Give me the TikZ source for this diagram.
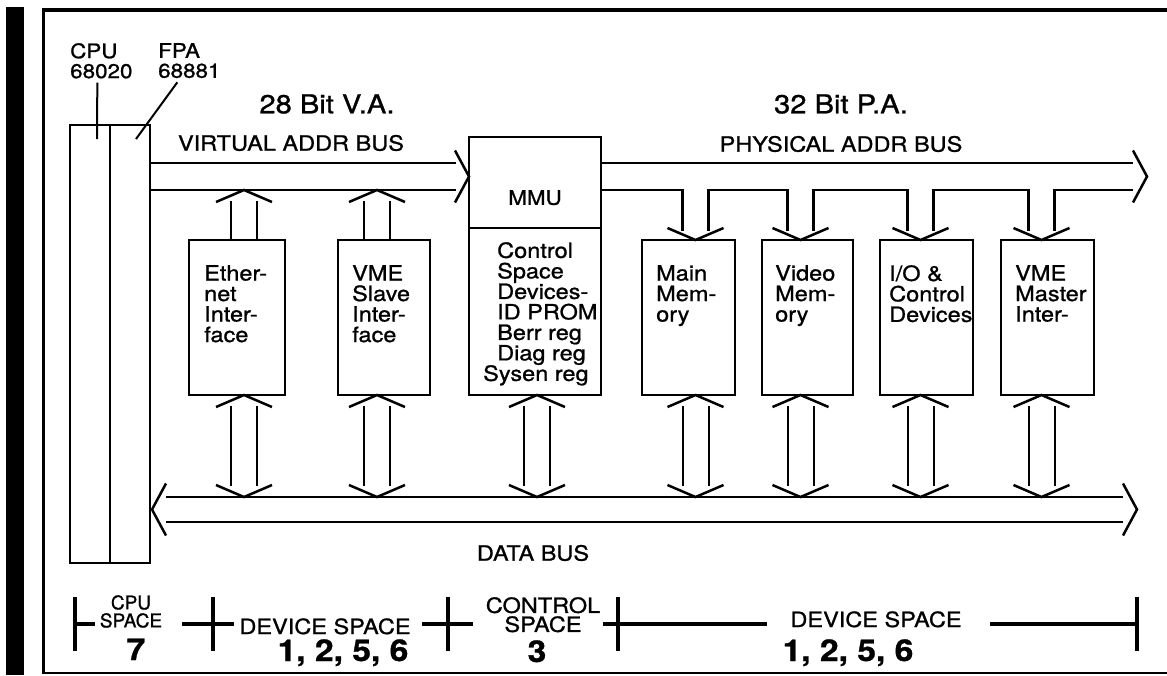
\documentclass[tikz,border=0pt]{standalone}
\usepackage{fontspec}
\setmainfont{TeX Gyre Heros}[FakeStretch=1.12, FakeBold=1]
\newfontfamily\narrowfont{TeX Gyre Heros}[FakeBold=1]
\usepackage{tikz}
\usetikzlibrary{positioning, calc}

\tikzset{
    box/.style={draw, line width=2.6pt, inner sep=0pt, outer sep=0pt, anchor=north west},
    boxtext/.style={inner sep=0pt, anchor=north west, align=left, font=\fontsize{21}{20.5}\selectfont},
    bus/.style={line width=2.8pt},
    shaft/.style={line width=2pt},
    tip/.style={line width=2.5pt},
    buslabel/.style={inner sep=0pt, font=\fontsize{21}{21}\selectfont},
    widthlabel/.style={inner sep=0pt, font=\fontsize{26}{26}\selectfont},
    spacelabel/.style={inner sep=0pt, align=center, font=\fontsize{21}{19}\selectfont},
    spacenum/.style={inner sep=0pt, anchor=base, font=\fontsize{30}{30}\selectfont\bfseries},
    scaleline/.style={line width=3.4pt},
}

\newcommand{\uptip}[1]{\draw[tip] ($(#1)+(-28,12)$) -- (#1) -- ($(#1)+(28,12)$);}
\newcommand{\downtip}[1]{\draw[tip] ($(#1)+(-28,-12)$) -- (#1) -- ($(#1)+(28,-12)$);}
\newcommand{\righttip}[1]{\draw[tip] ($(#1)+(-14,-26)$) -- (#1) -- ($(#1)+(-14,26)$);}
\newcommand{\lefttip}[1]{\draw[tip] ($(#1)+(14,-26)$) -- (#1) -- ($(#1)+(14,26)$);}

\begin{document}
\begin{tikzpicture}[x=1pt, y=-1pt]
    \useasboundingbox (0,0) rectangle (1167,675);

    \fill (6,7) rectangle (24,675);
    \draw[line width=4pt] (42,10) -- (1167,10);
    \draw[line width=3pt] (43,9) -- (43,673);
    \draw[line width=2.5pt] (42,673) -- (1167,673);

    \coordinate (atop) at (0,163);
    \coordinate (amid) at (0,176.5);
    \coordinate (abot) at (0,190);
    \coordinate (dtop) at (0,497);
    \coordinate (dmid) at (0,509.5);
    \coordinate (dbot) at (0,522);
    \coordinate (paend) at (1133,0);
    \coordinate (dend) at (1123,0);

    \node[box, minimum width=40pt, minimum height=438pt] (cpu) at (70,125) {};
    \node[box, minimum width=40pt, minimum height=438pt] (fpa) at (cpu.north east) {};
    \node[inner sep=0pt, anchor=north west, align=left, font=\fontsize{20}{20}\selectfont] (cpulabel) at (70,43) {CPU\\68020};
    \node[inner sep=0pt, anchor=north west, align=left, font=\fontsize{20}{20}\selectfont] (fpalabel) at (158,43) {FPA\\68881};
    \draw[shaft] ($(cpulabel.south)+(-4,4)$) -- ($(cpu.north)+(7,14)$);
    \draw[shaft] ($(fpalabel.south)+(-12,4)$) -- ($(fpa.north east)+(-14,14)$);

    \node[box, minimum width=132pt, minimum height=91pt] (mmu) at (469,137) {};
    \node[box, minimum width=132pt, minimum height=167pt] (csd) at (mmu.south west) {};
    \node[inner sep=0pt, anchor=north, font=\fontsize{20}{20}\selectfont, below=53pt of mmu.north] (mmutext) {MMU};
    \node[boxtext, below right=14pt and 28pt of csd.north west] (csdtext) {Control\\Space\\Devices-\\ID PROM\\Berr reg\\Diag reg\\\hspace*{-14pt}Sysen reg};

    \node[box, minimum width=96pt, minimum height=155pt] (eth) at (189,240) {};
    \node[box, minimum width=92pt, minimum height=155pt] (vmes) at (338,240) {};
    \node[box, minimum width=93pt, minimum height=155pt] (mainmem) at (642,240) {};
    \node[box, minimum width=91pt, minimum height=155pt] (vidmem) at (762,240) {};
    \node[box, minimum width=93pt, minimum height=155pt] (iodev) at (880,240) {};
    \node[box, minimum width=93pt, minimum height=155pt] (vmem) at (1001,240) {};

    \node[boxtext, below right=25pt and 15pt of eth.north west] (ethtext) {Ether-\\net\\Inter-\\face};
    \node[boxtext, below right=25pt and 14pt of vmes.north west] (vmestext) {VME\\Slave\\Inter-\\face};
    \node[boxtext, below right=25pt and 14pt of mainmem.north west] (mainmemtext) {Main\\Mem-\\ory};
    \node[boxtext, below right=25pt and 13pt of vidmem.north west] (vidmemtext) {Video\\Mem-\\ory};
    \node[boxtext, below right=25pt and 9pt of iodev.north west] (iodevtext) {I/O \&\\Control\\Devices};
    \node[boxtext, below right=25pt and 14pt of vmem.north west] (vmemtext) {VME\\Master\\Inter-};

    \node[widthlabel] (vawidth) at (327,104) {28 Bit V.A.};
    \node[buslabel] (valabel) at (291,143) {VIRTUAL ADDR BUS};
    \node[widthlabel] (pawidth) at (841,104) {32 Bit P.A.};
    \node[buslabel] (palabel) at (841,144) {PHYSICAL ADDR BUS};
    \node[buslabel] (dblabel) at (533,553) {DATA BUS};

    \draw[bus] (fpa.east |- atop) -- ($(mmu.west |- atop)+(-13,0)$);
    \draw[bus] (fpa.east |- abot) -- ($(mmu.west |- abot)+(-13,0)$);
    \righttip{mmu.west |- amid}

    \draw[bus] (mmu.east |- atop) -- (paend |- atop);
    \coordinate (patip) at ($(paend |- amid)+(14,0)$);
    \righttip{patip}

    \foreach \b/\dx in {eth/7, vmes/-7} {
        \coordinate (\b-t) at ($(\b.north)+(\dx,0)$);
        \uptip{\b-t |- abot}
        \draw[shaft] ($(\b-t |- abot)+(-13,11)$) -- ($(\b-t)+(-13,0)$);
        \draw[shaft] ($(\b-t |- abot)+(13,11)$) -- ($(\b-t)+(13,0)$);
    }

    \foreach \b/\dx in {mainmem/7, vidmem/-7, iodev/-6, vmem/-6} {
        \coordinate (\b-t) at ($(\b.north)+(\dx,0)$);
        \downtip{\b-t}
    }
    \draw[bus] (mmu.east |- abot) -- ($(mainmem-t |- abot)+(-13,0)$) -- ($(mainmem-t)+(-13,-9)$);
    \foreach \a/\b in {mainmem/vidmem, vidmem/iodev, iodev/vmem}
        \draw[bus] ($(\a-t)+(13,-9)$) -- ($(\a-t |- abot)+(13,0)$) -- ($(\b-t |- abot)+(-13,0)$) -- ($(\b-t)+(-13,-9)$);
    \draw[bus] ($(vmem-t)+(13,-9)$) -- ($(vmem-t |- abot)+(13,0)$) -- (paend |- abot);

    \coordinate (dl) at ($(fpa.east |- dmid)+(2,0)$);
    \coordinate (dr) at ($(dend |- dmid)+(14,0)$);
    \draw[bus] ($(dl |- dtop)+(14,0)$) -- (dend |- dtop);
    \draw[bus] ($(dl |- dbot)+(14,0)$) -- (dend |- dbot);
    \lefttip{dl}
    \righttip{dr}

    \foreach \b/\dx in {eth/7, vmes/-7, csd/2, mainmem/7, vidmem/-7, iodev/-6, vmem/-6} {
        \coordinate (\b-b) at ($(\b.south)+(\dx,0)$);
        \uptip{\b-b}
        \downtip{\b-b |- dtop}
        \draw[shaft] ($(\b-b)+(-13,11)$) -- ($(\b-b |- dtop)+(-13,-11)$);
        \draw[shaft] ($(\b-b)+(13,11)$) -- ($(\b-b |- dtop)+(13,-11)$);
    }

    \coordinate (s0) at (75,624);
    \coordinate (s1) at (213,624);
    \coordinate (s2) at (448,624);
    \coordinate (s3) at (618,624);
    \coordinate (s4) at (1137,624);
    \foreach \s in {s0, s1, s2, s3, s4}
        \draw[scaleline] ($(\s)+(0,-27)$) -- ($(\s)+(0,27)$);
    \draw[scaleline] (s0) -- ($(s0)+(20,0)$);
    \draw[scaleline] ($(s1)+(-31,0)$) -- ($(s1)+(21,0)$);
    \draw[scaleline] ($(s2)+(-26,0)$) -- ($(s2)+(25,0)$);
    \draw[scaleline] ($(s3)+(-15,0)$) -- ($(s3)+(149,0)$);
    \draw[scaleline] ($(s4)+(-147,0)$) -- (s4);

    \node[spacelabel, anchor=north, font=\narrowfont\fontsize{19}{18}\selectfont] (cpusp) at (131,595) {CPU\\SPACE};
    \node[spacenum] (cpunum) at (136,660) {7};
    \node[spacelabel, anchor=base] (devsp) at (325,634) {DEVICE SPACE};
    \node[spacenum] (devnum) at (343,661) {1, 2, 5, 6};
    \node[spacelabel, anchor=north] (ctlsp) at (543,597) {CONTROL\\SPACE};
    \node[spacenum] (ctlnum) at (537,662) {3};
    \node[spacelabel, anchor=base] (memsp) at (876,627) {DEVICE SPACE};
    \node[spacenum] (memnum) at (848,661) {1, 2, 5, 6};
\end{tikzpicture}
\end{document}
